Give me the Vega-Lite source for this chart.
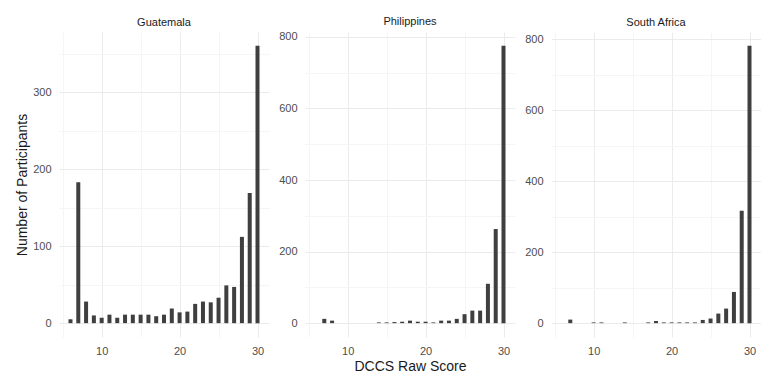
{
  "$schema": "https://vega.github.io/schema/vega-lite/v6.json",
  "padding": {"left": 15, "top": 15, "right": 0, "bottom": 0},
  "datasets": {
    "dccs": [
      {"country": "Guatemala", "score": 6, "n": 5},
      {"country": "Guatemala", "score": 7, "n": 183},
      {"country": "Guatemala", "score": 8, "n": 28},
      {"country": "Guatemala", "score": 9, "n": 10},
      {"country": "Guatemala", "score": 10, "n": 7},
      {"country": "Guatemala", "score": 11, "n": 11},
      {"country": "Guatemala", "score": 12, "n": 7},
      {"country": "Guatemala", "score": 13, "n": 11},
      {"country": "Guatemala", "score": 14, "n": 11},
      {"country": "Guatemala", "score": 15, "n": 11},
      {"country": "Guatemala", "score": 16, "n": 11},
      {"country": "Guatemala", "score": 17, "n": 9},
      {"country": "Guatemala", "score": 18, "n": 11},
      {"country": "Guatemala", "score": 19, "n": 19},
      {"country": "Guatemala", "score": 20, "n": 14},
      {"country": "Guatemala", "score": 21, "n": 15},
      {"country": "Guatemala", "score": 22, "n": 25},
      {"country": "Guatemala", "score": 23, "n": 28},
      {"country": "Guatemala", "score": 24, "n": 27},
      {"country": "Guatemala", "score": 25, "n": 33},
      {"country": "Guatemala", "score": 26, "n": 49},
      {"country": "Guatemala", "score": 27, "n": 47},
      {"country": "Guatemala", "score": 28, "n": 112},
      {"country": "Guatemala", "score": 29, "n": 169},
      {"country": "Guatemala", "score": 30, "n": 360},
      {"country": "Philippines", "score": 7, "n": 12},
      {"country": "Philippines", "score": 8, "n": 7},
      {"country": "Philippines", "score": 14, "n": 2},
      {"country": "Philippines", "score": 15, "n": 2},
      {"country": "Philippines", "score": 16, "n": 3},
      {"country": "Philippines", "score": 17, "n": 4},
      {"country": "Philippines", "score": 18, "n": 7},
      {"country": "Philippines", "score": 19, "n": 4},
      {"country": "Philippines", "score": 20, "n": 4},
      {"country": "Philippines", "score": 21, "n": 2},
      {"country": "Philippines", "score": 22, "n": 7},
      {"country": "Philippines", "score": 23, "n": 7},
      {"country": "Philippines", "score": 24, "n": 12},
      {"country": "Philippines", "score": 25, "n": 25},
      {"country": "Philippines", "score": 26, "n": 35},
      {"country": "Philippines", "score": 27, "n": 35},
      {"country": "Philippines", "score": 28, "n": 110},
      {"country": "Philippines", "score": 29, "n": 263},
      {"country": "Philippines", "score": 30, "n": 775},
      {"country": "South Africa", "score": 7, "n": 10},
      {"country": "South Africa", "score": 10, "n": 2},
      {"country": "South Africa", "score": 11, "n": 2},
      {"country": "South Africa", "score": 14, "n": 2},
      {"country": "South Africa", "score": 17, "n": 2},
      {"country": "South Africa", "score": 18, "n": 6},
      {"country": "South Africa", "score": 19, "n": 2},
      {"country": "South Africa", "score": 20, "n": 2},
      {"country": "South Africa", "score": 21, "n": 2},
      {"country": "South Africa", "score": 22, "n": 2},
      {"country": "South Africa", "score": 23, "n": 2},
      {"country": "South Africa", "score": 24, "n": 9},
      {"country": "South Africa", "score": 25, "n": 13},
      {"country": "South Africa", "score": 26, "n": 27},
      {"country": "South Africa", "score": 27, "n": 41},
      {"country": "South Africa", "score": 28, "n": 88},
      {"country": "South Africa", "score": 29, "n": 317},
      {"country": "South Africa", "score": 30, "n": 782}
    ]
  },
  "data": {"name": "dccs"},
  "hconcat": [
    {
      "title": "Guatemala",
      "width": 210,
      "height": 305,
      "transform": [{"filter": "datum.country === 'Guatemala'"}],
      "mark": {"type": "bar", "width": 4, "color": "#3f3f3f"},
      "encoding": {
        "x": {
          "field": "score", "type": "quantitative",
          "scale": {"domain": [4.525, 31.475], "nice": false, "zero": false, "padding": 0},
          "axis": {
            "title": null,
            "values": [5, 10, 15, 20, 25, 30],
            "labelExpr": "datum.value % 10 === 0 ? datum.label : ''",
            "gridColor": {"condition": {"test": "datum.value % 10 === 0", "value": "#ebebeb"}, "value": "#f5f5f5"}
          }
        },
        "y": {
          "field": "n", "type": "quantitative",
          "scale": {"domain": [-18, 378], "nice": false},
          "axis": {
            "title": "Number of Participants",
            "titlePadding": 3,
            "values": [0, 50, 100, 150, 200, 250, 300, 350],
            "labelExpr": "datum.value % 100 === 0 ? datum.label : ''",
            "gridColor": {"condition": {"test": "datum.value % 100 === 0", "value": "#ebebeb"}, "value": "#f5f5f5"}
          }
        }
      }
    },
    {
      "title": "Philippines",
      "width": 210,
      "height": 305,
      "transform": [{"filter": "datum.country === 'Philippines'"}],
      "mark": {"type": "bar", "width": 4, "color": "#3f3f3f"},
      "encoding": {
        "x": {
          "field": "score", "type": "quantitative",
          "scale": {"domain": [4.525, 31.475], "nice": false, "zero": false, "padding": 0},
          "axis": {
            "title": "DCCS Raw Score",
            "titlePadding": 3,
            "values": [5, 10, 15, 20, 25, 30],
            "labelExpr": "datum.value % 10 === 0 ? datum.label : ''",
            "gridColor": {"condition": {"test": "datum.value % 10 === 0", "value": "#ebebeb"}, "value": "#f5f5f5"}
          }
        },
        "y": {
          "field": "n", "type": "quantitative",
          "scale": {"domain": [-38.75, 813.75], "nice": false},
          "axis": {
            "title": null,
            "values": [0, 100, 200, 300, 400, 500, 600, 700, 800],
            "labelExpr": "datum.value % 200 === 0 ? datum.label : ''",
            "gridColor": {"condition": {"test": "datum.value % 200 === 0", "value": "#ebebeb"}, "value": "#f5f5f5"}
          }
        }
      }
    },
    {
      "title": "South Africa",
      "width": 210,
      "height": 305,
      "transform": [{"filter": "datum.country === 'South Africa'"}],
      "mark": {"type": "bar", "width": 4, "color": "#3f3f3f"},
      "encoding": {
        "x": {
          "field": "score", "type": "quantitative",
          "scale": {"domain": [4.525, 31.475], "nice": false, "zero": false, "padding": 0},
          "axis": {
            "title": null,
            "values": [5, 10, 15, 20, 25, 30],
            "labelExpr": "datum.value % 10 === 0 ? datum.label : ''",
            "gridColor": {"condition": {"test": "datum.value % 10 === 0", "value": "#ebebeb"}, "value": "#f5f5f5"}
          }
        },
        "y": {
          "field": "n", "type": "quantitative",
          "scale": {"domain": [-39.1, 821.1], "nice": false},
          "axis": {
            "title": null,
            "values": [0, 100, 200, 300, 400, 500, 600, 700, 800],
            "labelExpr": "datum.value % 200 === 0 ? datum.label : ''",
            "gridColor": {"condition": {"test": "datum.value % 200 === 0", "value": "#ebebeb"}, "value": "#f5f5f5"}
          }
        }
      }
    }
  ],
  "resolve": {"scale": {"y": "independent", "x": "independent"}},
  "config": {
    "font": "Liberation Sans",
    "view": {"stroke": null},
    "concat": {"spacing": 9},
    "axis": {
      "domain": false,
      "ticks": false,
      "labelColor": "#4d4d4d",
      "labelFontSize": 11,
      "labelPadding": 8,
      "titleColor": "#1a1a1a",
      "titleFontSize": 14,
      "titleFontWeight": "normal"
    },
    "title": {"fontSize": 11, "fontWeight": "normal", "color": "#1a1a1a", "offset": 0, "anchor": "middle"}
  }
}
